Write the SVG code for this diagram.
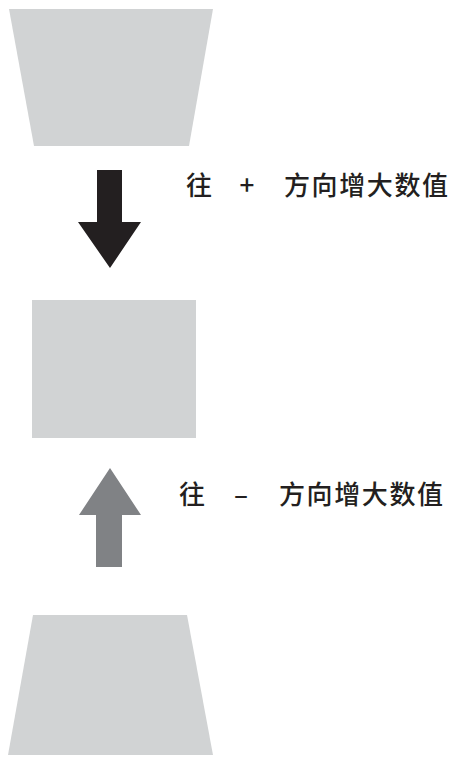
<svg xmlns="http://www.w3.org/2000/svg" width="451" height="759" viewBox="0 0 451 759">
<style>
.shape{fill:#d1d3d4}
.t{font-family:"Noto Sans CJK SC","Noto Sans",sans-serif;font-size:26px;font-weight:500;fill:#231f20}
</style>
<rect width="451" height="759" fill="#ffffff"/>
<g id="top-trapezoid"><polygon class="shape" points="9,9 213,9 189,146 34,146"/></g>
<g id="middle-rect"><rect class="shape" x="32" y="300" width="164" height="138"/></g>
<g id="bottom-trapezoid"><polygon class="shape" points="33,615 187,615 213,755 8,755"/></g>
<g id="connectors">
<polygon fill="#231f20" points="97,170 122,170 122,222 141,222 110,268 78,222 97,222"/>
<polygon fill="#808285" points="110,468 141,515 122,515 122,567 96,567 96,515 79,515"/>
</g>
<g id="label-plus">
<text class="t" x="186" y="195">往</text>
<text class="t" x="247" y="195" text-anchor="middle">+</text>
<text class="t" x="284" y="195" textLength="164" lengthAdjust="spacing">方向增大数值</text>
</g>
<g id="label-minus">
<text class="t" x="179" y="504">往</text>
<text class="t" x="241" y="504" text-anchor="middle">–</text>
<text class="t" x="279" y="504" textLength="164" lengthAdjust="spacing">方向增大数值</text>
</g>
</svg>
